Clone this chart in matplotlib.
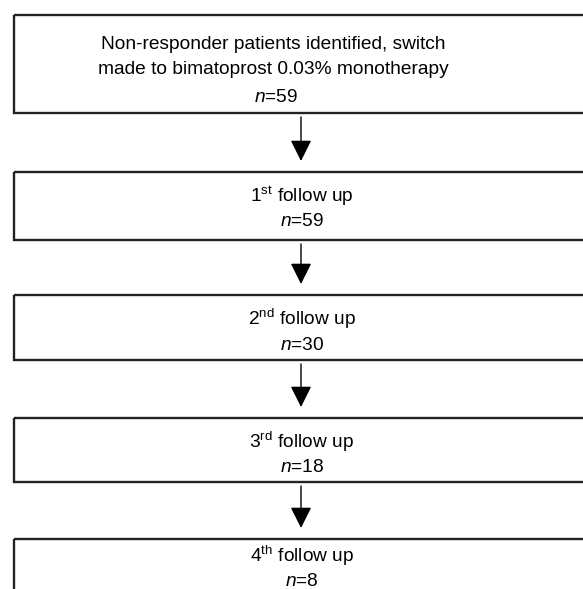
import matplotlib
matplotlib.use("Agg")
import matplotlib.pyplot as plt
from matplotlib.patches import Rectangle, FancyArrowPatch

plt.rcParams["font.family"] = ["Liberation Sans", "DejaVu Sans"]
plt.rcParams["mathtext.fontset"] = "custom"
plt.rcParams["mathtext.rm"] = "Liberation Sans"
plt.rcParams["mathtext.it"] = "Liberation Sans:italic"

# flow stages
stage_titles = ["Non-responder patients identified, switch\nmade to bimatoprost 0.03% monotherapy",
                "1$^{\\mathregular{st}}$ follow up",
                "2$^{\\mathregular{nd}}$ follow up",
                "3$^{\\mathregular{rd}}$ follow up",
                "4$^{\\mathregular{th}}$ follow up"]
stage_n = [59, 59, 30, 18, 8]

# layout in pixels: box top/bottom, text rows
box_top = [15, 172, 295, 418, 539]
box_bottom = [113, 240, 360, 482, 620]
title_y = [57, 196, 319, 442, 556]
n_y = [97, 222, 345, 468, 581]
text_x = [273, 302, 302, 302, 302]
box_left = 14
box_right = 640
arrow_x = 301
fs = 13.8

W, H = 583, 589
fig = plt.figure(figsize=(W / 100, H / 100), dpi=100)
ax = fig.add_axes([0, 0, 1, 1])
ax.set_xlim(0, W)
ax.set_ylim(H, 0)
ax.axis("off")

for i, (title, n) in enumerate(zip(stage_titles, stage_n)):
    top, bot = box_top[i], box_bottom[i]
    ax.add_patch(Rectangle((box_left, top), box_right - box_left, bot - top,
                           fill=False, ec="#222222", lw=1.7))
    ax.text(text_x[i], title_y[i], title, ha="center", va="center", fontsize=fs,
            linespacing=1.6)
    ax.text(text_x[i] + 3 * (i == 0), n_y[i], "$n$=%d" % n, ha="center", va="center",
            fontsize=fs)
    if i < len(stage_titles) - 1:
        y0 = bot + 4
        y1 = box_top[i + 1] - 11
        ax.add_patch(FancyArrowPatch((arrow_x, y0), (arrow_x, y1),
                                     arrowstyle="-|>,head_length=1.0,head_width=0.5",
                                     mutation_scale=13, color="black", lw=1.0,
                                     shrinkA=0, shrinkB=0))

fig.savefig("out.png", dpi=100)
